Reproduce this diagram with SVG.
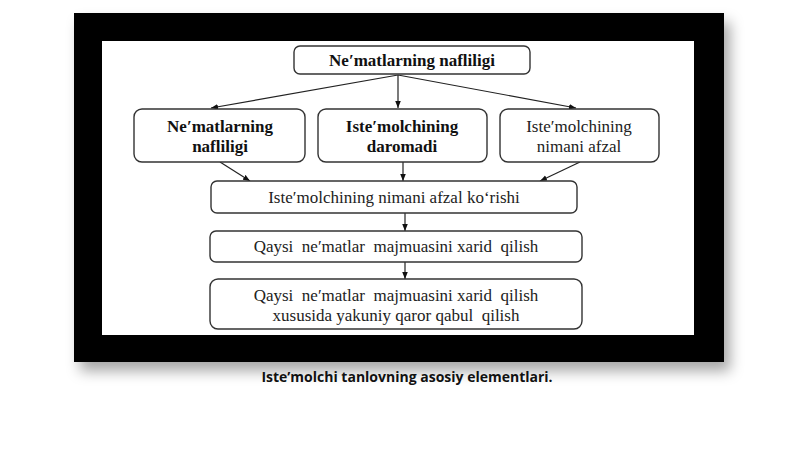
<svg xmlns="http://www.w3.org/2000/svg" width="800" height="449" viewBox="0 0 800 449">
<defs>
<filter id="sh" x="-10%" y="-10%" width="125%" height="130%">
<feDropShadow dx="6" dy="9" stdDeviation="7" flood-color="#000" flood-opacity="0.35"/>
</filter>
<marker id="ah" viewBox="0 0 10 10" refX="10" refY="5" markerWidth="7" markerHeight="7" orient="auto" markerUnits="userSpaceOnUse">
<path d="M0,1 L10,5 L0,9 z" fill="#111"/>
</marker>
</defs>
<style>
.box{fill:#fff;stroke:#333;stroke-width:1.4}
.t{font-family:"Liberation Serif","Times New Roman",serif;font-size:17px;fill:#222;text-anchor:middle}
.b{font-weight:bold;fill:#111}
.c{stroke:#222;stroke-width:1.2;fill:none;marker-end:url(#ah)}
.cap{font-family:"Open Sans","Liberation Sans",sans-serif;font-size:14px;font-weight:bold;fill:#111;text-anchor:middle}
</style>
<rect width="800" height="449" fill="#fff"/>
<rect x="74" y="13" width="650" height="349" fill="#000" filter="url(#sh)"/>
<rect x="102" y="41" width="592" height="294" fill="#fff"/>
<g id="connectors">
<line class="c" x1="398" y1="75" x2="211" y2="108"/>
<line class="c" x1="398" y1="75" x2="398" y2="108"/>
<line class="c" x1="398" y1="75" x2="576" y2="108"/>
<line class="c" x1="220" y1="162" x2="250" y2="181"/>
<line class="c" x1="403" y1="162" x2="403" y2="181"/>
<line class="c" x1="580" y1="162" x2="540" y2="181"/>
<line class="c" x1="405" y1="213" x2="405" y2="231"/>
<line class="c" x1="405" y1="262" x2="405" y2="279"/>
</g>
<g id="n-top">
<rect class="box" x="294" y="46" width="236" height="28" rx="6"/>
<text class="t b" x="412" y="66">Ne′matlarning nafliligi</text>
</g>
<g id="n-left">
<rect class="box" x="134" y="109" width="171" height="53" rx="8"/>
<text class="t b" x="220" y="132">Ne′matlarning</text>
<text class="t b" x="220" y="152">nafliligi</text>
</g>
<g id="n-mid">
<rect class="box" x="318" y="109" width="169" height="53" rx="8"/>
<text class="t b" x="402" y="132">Iste′molchining</text>
<text class="t b" x="402" y="152">daromadi</text>
</g>
<g id="n-right">
<rect class="box" x="500" y="109" width="159" height="53" rx="8"/>
<text class="t" x="579" y="132">Iste′molchining</text>
<text class="t" x="579" y="152">nimani afzal</text>
</g>
<g id="n-pref">
<rect class="box" x="211" y="181" width="366" height="32" rx="6"/>
<text class="t" x="394" y="203">Iste′molchining nimani afzal koʻrishi</text>
</g>
<g id="n-which">
<rect class="box" x="210" y="231" width="372" height="31" rx="6"/>
<text class="t" x="396" y="252" xml:space="preserve">Qaysi  ne′matlar  majmuasini xarid  qilish</text>
</g>
<g id="n-final">
<rect class="box" x="210" y="279" width="372" height="50" rx="8"/>
<text class="t" x="396" y="301" xml:space="preserve">Qaysi  ne′matlar  majmuasini xarid  qilish</text>
<text class="t" x="396" y="321" xml:space="preserve">xususida yakuniy qaror qabul  qilish</text>
</g>
<text class="cap" x="407" y="382">Iste’molchi tanlovning asosiy elementlari.</text>
</svg>
